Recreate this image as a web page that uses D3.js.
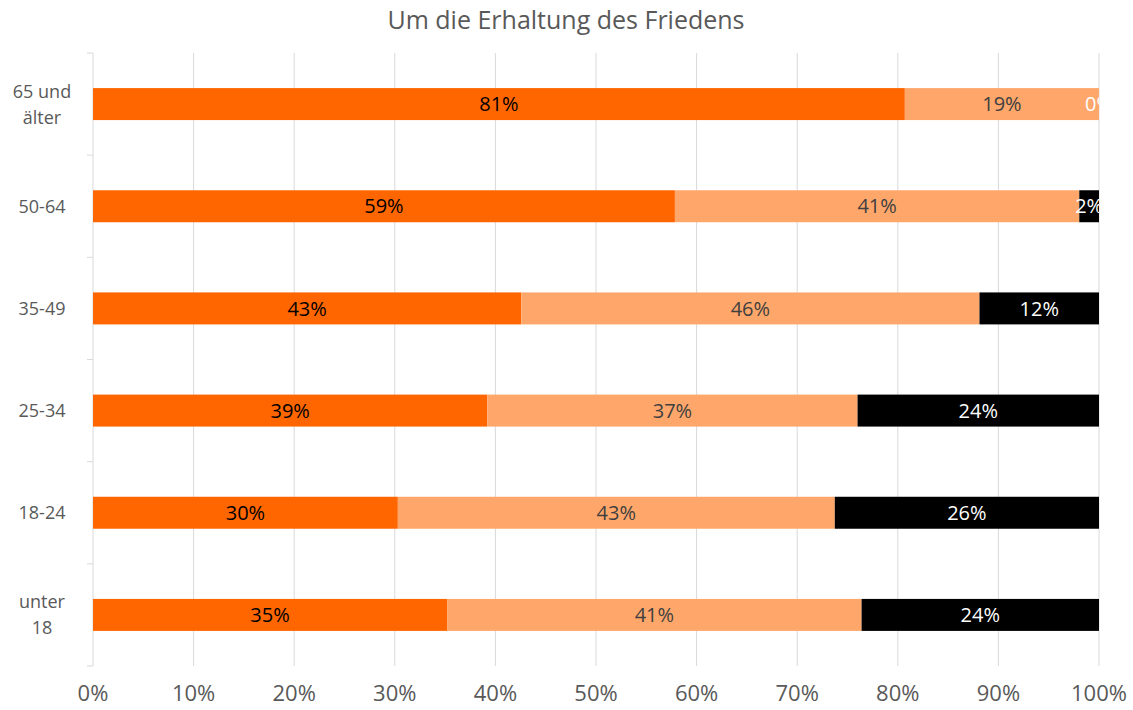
<!DOCTYPE html>
<html>
<head>
<meta charset="utf-8">
<script src="https://cdn.jsdelivr.net/npm/d3@7"></script>
<style>
  body { margin: 0; background: #fff; }
  text { font-family: "Open Sans", sans-serif; }
</style>
</head>
<body>
<svg id="chart" width="1133" height="710"></svg>
<script>
// categories, top to bottom
var categories = ["65 und\nälter", "50-64", "35-49", "25-34", "18-24", "unter\n18"];
var series = ["s1", "s2", "s3"];
// raw values per category (the chart normalizes to 100 %)
var s1 = [80.7, 59, 43, 39.2, 30, 35.2];
var s2 = [19.3, 41, 46, 36.8, 43, 41.2];
var s3 = [0, 2, 12, 24, 26, 23.6];
var xTicks = [0, 0.1, 0.2, 0.3, 0.4, 0.5, 0.6, 0.7, 0.8, 0.9, 1];

var colors = ["#FF6600", "#FFA76A", "#000000"];
var labelColors = ["#000000", "#404040", "#ffffff"];

var svg = d3.select("#chart");
var mLeft = 93, mRight = 1099, mTop = 53, mBottom = 666;

var rows = categories.map(function(c, i) {
  return { cat: c, s1: s1[i], s2: s2[i], s3: s3[i] };
});

var x = d3.scaleLinear().domain([0, 1]).range([mLeft, mRight]);
var y = d3.scaleBand().domain(categories).range([mTop, mBottom]).paddingInner(0.687).paddingOuter(0.3435);

var stack = d3.stack().keys(series).offset(d3.stackOffsetExpand);
var layers = stack(rows);

// gridlines
svg.append("g").selectAll("line")
  .data(xTicks.slice(1))
  .enter().append("line")
  .attr("x1", function(d) { return x(d); })
  .attr("x2", function(d) { return x(d); })
  .attr("y1", mTop).attr("y2", mBottom)
  .attr("stroke", "#d9d9d9").attr("stroke-width", 1);

// y axis line + ticks between categories
svg.append("line")
  .attr("x1", mLeft).attr("x2", mLeft).attr("y1", mTop).attr("y2", mBottom)
  .attr("stroke", "#d9d9d9");
var step = (mBottom - mTop) / categories.length;
svg.append("g").selectAll("line")
  .data(d3.range(categories.length + 1))
  .enter().append("line")
  .attr("x1", mLeft - 6).attr("x2", mLeft)
  .attr("y1", function(i) { return mTop + i * step; })
  .attr("y2", function(i) { return mTop + i * step; })
  .attr("stroke", "#d9d9d9");

svg.append("defs").append("clipPath").attr("id", "plotclip")
  .append("rect").attr("x", mLeft).attr("y", mTop).attr("width", mRight - mLeft).attr("height", mBottom - mTop);

var plot = svg.append("g").attr("clip-path", "url(#plotclip)");

layers.forEach(function(layer, k) {
  plot.append("g").selectAll("rect")
    .data(layer)
    .enter().append("rect")
    .attr("x", function(d) { return x(d[0]); })
    .attr("width", function(d) { return x(d[1]) - x(d[0]); })
    .attr("y", function(d) { return y(d.data.cat); })
    .attr("height", y.bandwidth())
    .attr("fill", colors[k]);
});

layers.forEach(function(layer, k) {
  plot.append("g").selectAll("text")
    .data(layer)
    .enter().append("text")
    .attr("x", function(d) { return (x(d[0]) + x(d[1])) / 2; })
    .attr("y", function(d) { return y(d.data.cat) + y.bandwidth() / 2; })
    .attr("dy", "0.36em")
    .attr("text-anchor", "middle")
    .attr("font-size", 20)
    .attr("fill", labelColors[k])
    .text(function(d) { return Math.round(d.data[series[k]]) + "%"; });
});

// category labels
svg.append("g").selectAll("text")
  .data(categories)
  .enter().append("text")
  .attr("x", 42)
  .attr("y", function(d) { return y(d) + y.bandwidth() / 2; })
  .attr("text-anchor", "middle")
  .attr("font-size", 18)
  .attr("fill", "#595959")
  .each(function(d) {
    var lines = d.split("\n");
    var t = d3.select(this);
    lines.forEach(function(l, i) {
      t.append("tspan")
        .attr("x", 42)
        .attr("dy", i === 0 ? (0.36 - (lines.length - 1) * 0.72) + "em" : "1.44em")
        .text(l);
    });
  });

// x tick labels
svg.append("g").selectAll("text")
  .data(xTicks)
  .enter().append("text")
  .attr("x", function(d) { return x(d); })
  .attr("y", 701)
  .attr("text-anchor", "middle")
  .attr("font-size", 22)
  .attr("fill", "#595959")
  .text(d3.format(".0%"));

// title
svg.append("text")
  .attr("x", 566).attr("y", 29)
  .attr("text-anchor", "middle")
  .attr("font-size", 25)
  .attr("fill", "#595959")
  .text("Um die Erhaltung des Friedens");
</script>
</body>
</html>
